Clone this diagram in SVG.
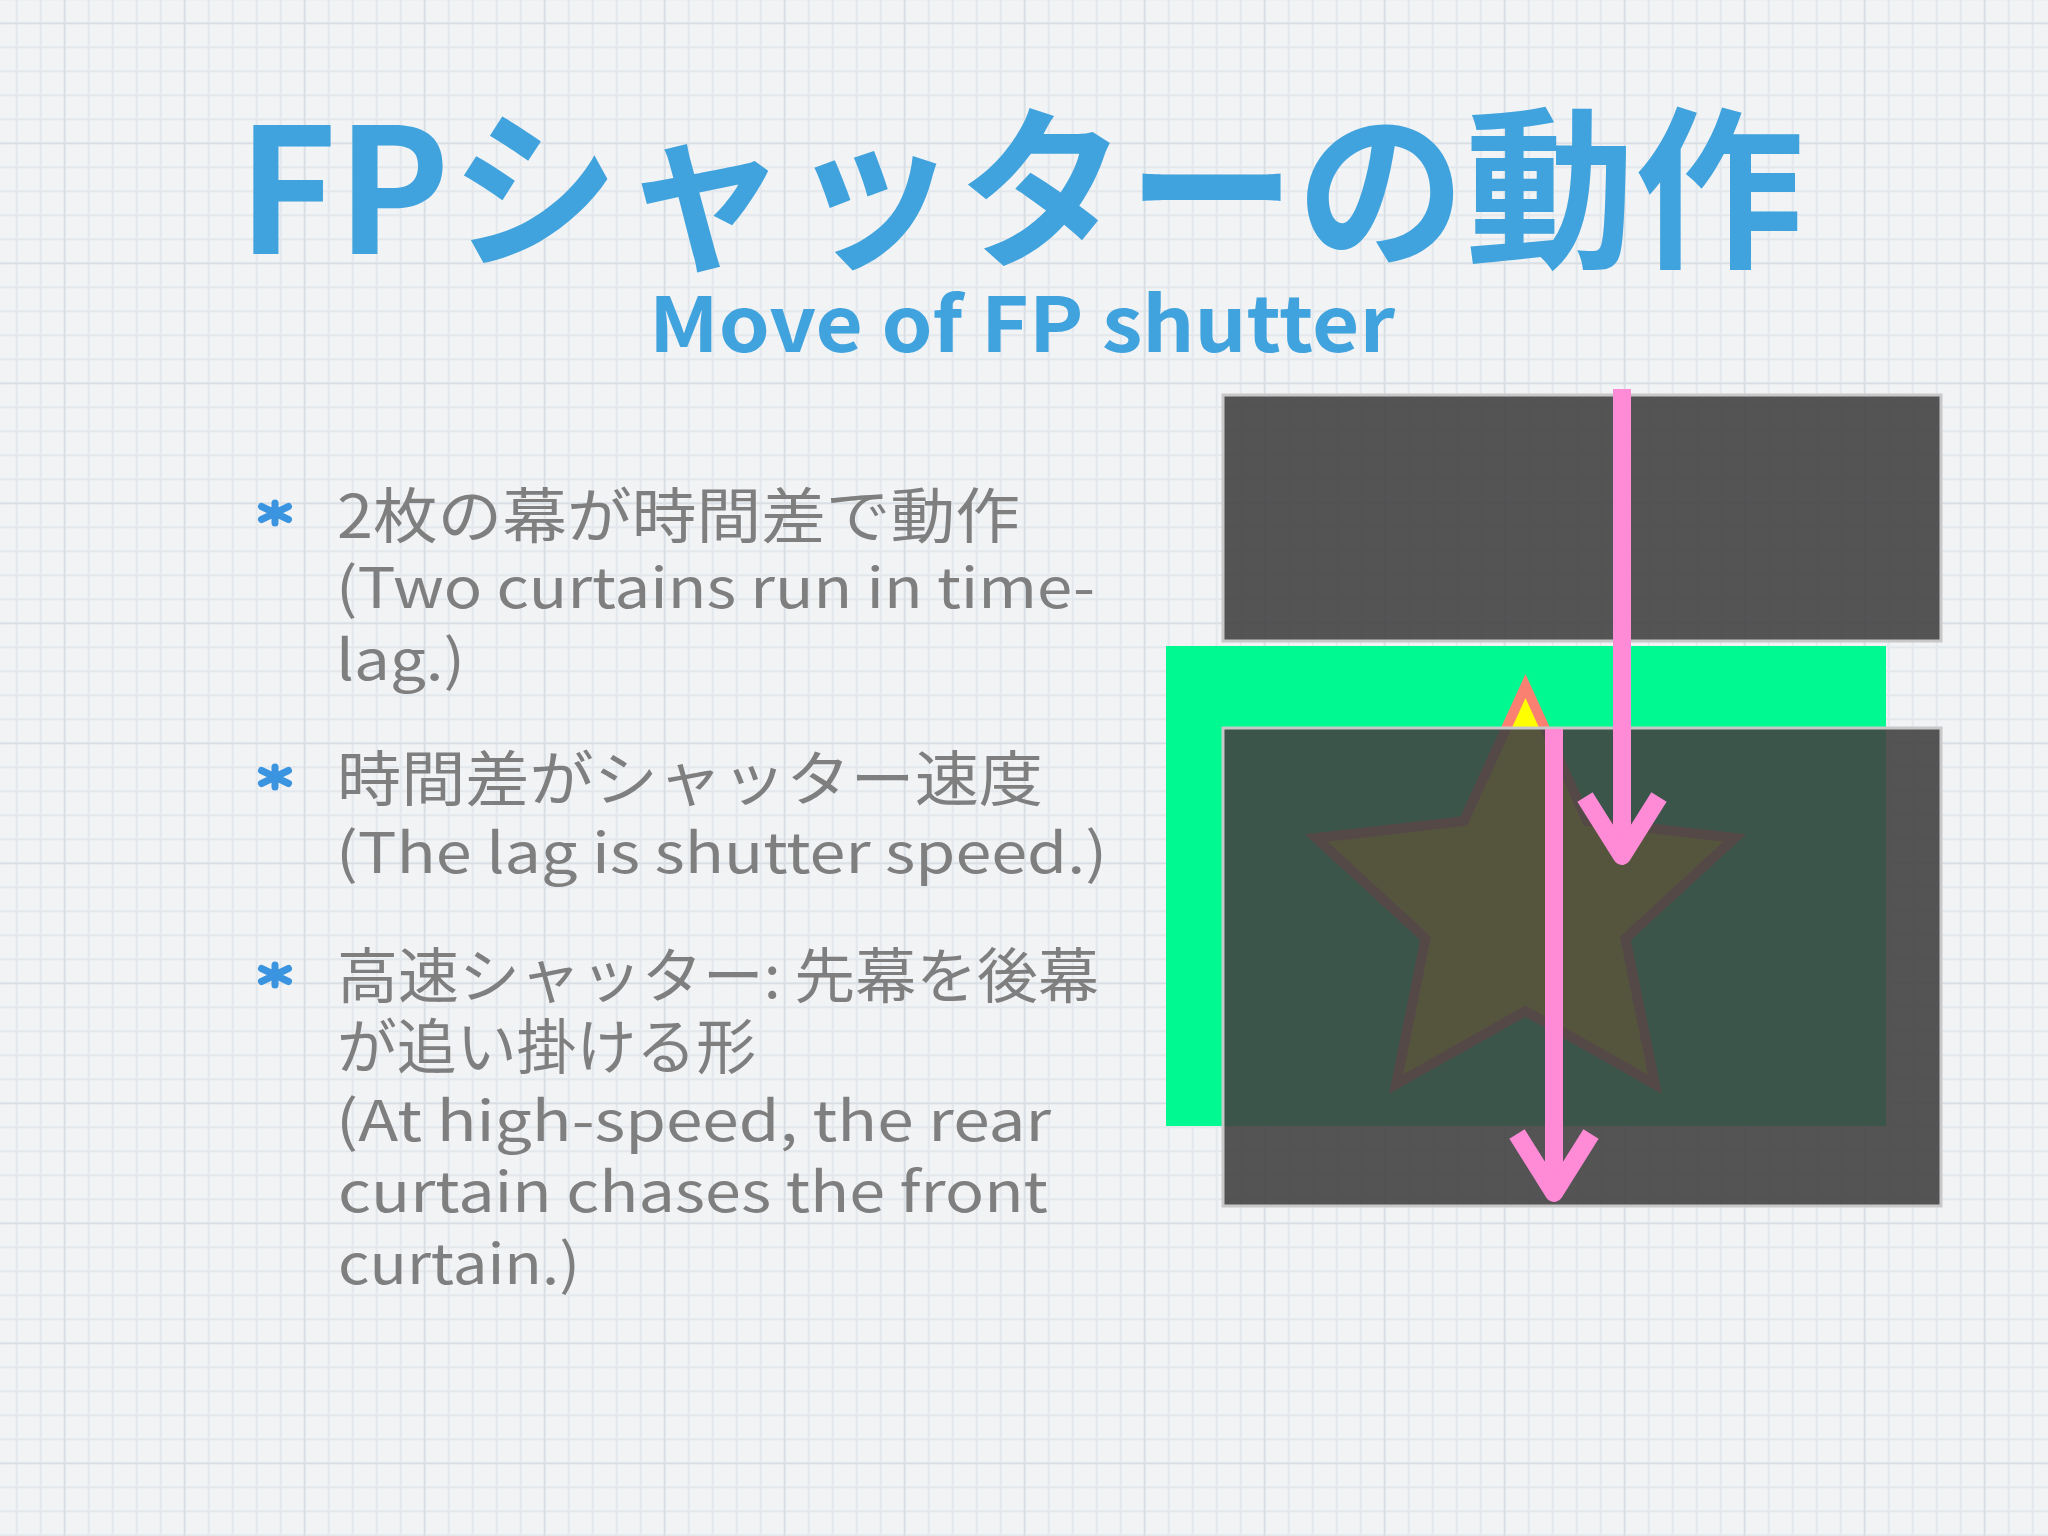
<svg xmlns="http://www.w3.org/2000/svg" width="2048" height="1536" viewBox="0 0 2048 1536">
  <defs>
    <pattern id="grid" width="120" height="120" patternUnits="userSpaceOnUse" x="63.7" y="22.3">
      <rect x="24" y="0" width="2" height="120" fill="#E3E8EC"/>
      <rect x="48" y="0" width="2" height="120" fill="#E3E8EC"/>
      <rect x="72" y="0" width="2" height="120" fill="#E3E8EC"/>
      <rect x="96" y="0" width="2" height="120" fill="#E3E8EC"/>
      <rect x="0" y="24" width="120" height="2" fill="#E3E8EC"/>
      <rect x="0" y="48" width="120" height="2" fill="#E3E8EC"/>
      <rect x="0" y="72" width="120" height="2" fill="#E3E8EC"/>
      <rect x="0" y="96" width="120" height="2" fill="#E3E8EC"/>
      <rect x="0" y="0" width="2" height="120" fill="#D9DFE4"/>
      <rect x="0" y="0" width="120" height="2" fill="#D9DFE4"/>
    </pattern>
    <marker id="head" viewBox="-80 -50 100 100" markerWidth="100" markerHeight="100" refX="0" refY="0" orient="auto" markerUnits="userSpaceOnUse" overflow="visible">
      <path d="M-59,-37 L0,0 L-59,37" fill="none" stroke="#FF8AD6" stroke-width="18" stroke-linejoin="round" stroke-linecap="butt"/>
    </marker>
    <path id="ast" d="M0,-10 L0,10 M-13.5,-6.5 L13.5,6.5 M-13.5,6.5 L13.5,-6.5"/>
  </defs>
  <style>
    .title { font-family: "Noto Sans CJK JP", "Noto Sans", sans-serif; font-weight: 700; fill: #41A3DD; }
    .body { font-family: "Noto Sans CJK JP", "Noto Sans", sans-serif; font-weight: 400; fill: #7F7F7F; }
    .cjk { font-size: 60px; }
    .lat { font-size: 56px; }
    .bullet { fill: none; stroke: #3A94DF; stroke-width: 7; stroke-linecap: round; }
    .curtain { fill: #424244; fill-opacity: 0.9; stroke: #C8C8C8; stroke-width: 3; }
    .arrow { fill: none; stroke: #FF8AD6; stroke-width: 18; stroke-linecap: butt; marker-end: url(#head); }
  </style>

  <g id="background">
    <rect x="0" y="0" width="2048" height="1536" fill="#F1F3F5"/>
    <rect x="0" y="0" width="2048" height="1536" fill="url(#grid)"/>
  </g>

  <g id="title">
    <text class="title" x="238" y="254" font-size="174" textLength="1566" lengthAdjust="spacingAndGlyphs">FPシャッターの動作</text>
  </g>
  <g id="subtitle">
    <text class="title" x="649" y="352" font-size="76" textLength="746" lengthAdjust="spacingAndGlyphs">Move of FP shutter</text>
  </g>

  <g id="bullet-1">
    <use href="#ast" class="bullet" x="275" y="513"/>
    <text class="body cjk" x="337" y="538" textLength="683" lengthAdjust="spacingAndGlyphs">2枚の幕が時間差で動作</text>
    <text class="body lat" x="336" y="608" textLength="759" lengthAdjust="spacingAndGlyphs">(Two curtains run in time-</text>
    <text class="body lat" x="336" y="680" textLength="129" lengthAdjust="spacingAndGlyphs">lag.)</text>
  </g>
  <g id="bullet-2">
    <use href="#ast" class="bullet" x="275" y="777"/>
    <text class="body cjk" x="337" y="801" textLength="706" lengthAdjust="spacingAndGlyphs">時間差がシャッター速度</text>
    <text class="body lat" x="336" y="873" textLength="771" lengthAdjust="spacingAndGlyphs">(The lag is shutter speed.)</text>
  </g>
  <g id="bullet-3">
    <use href="#ast" class="bullet" x="275" y="975"/>
    <text class="body cjk" x="337" y="998" textLength="762" lengthAdjust="spacingAndGlyphs">高速シャッター: 先幕を後幕</text>
    <text class="body cjk" x="337" y="1069" textLength="419" lengthAdjust="spacingAndGlyphs">が追い掛ける形</text>
    <text class="body lat" x="336" y="1141" textLength="715" lengthAdjust="spacingAndGlyphs">(At high-speed, the rear</text>
    <text class="body lat" x="338" y="1212" textLength="710" lengthAdjust="spacingAndGlyphs">curtain chases the front</text>
    <text class="body lat" x="338" y="1284" textLength="242" lengthAdjust="spacingAndGlyphs">curtain.)</text>
  </g>

  <g id="front-curtain">
    <rect class="curtain" x="1223" y="395" width="718" height="246"/>
  </g>
  <g id="exposure-area">
    <rect x="1166" y="646" width="720" height="480" fill="#00F991"/>
  </g>
  <g id="subject-star">
    <polygon points="1525.5,686 1587.2,821.1 1734.7,838 1625.4,938.4 1654.8,1084 1525.5,1011 1396.2,1084 1425.6,938.4 1316.3,838 1463.8,821.1" fill="#FFFF00" stroke="#FA8072" stroke-width="10"/>
  </g>
  <g id="rear-curtain">
    <rect class="curtain" x="1223" y="728" width="718" height="478"/>
  </g>

  <g id="connectors">
    <line class="arrow" x1="1554" y1="729" x2="1554" y2="1193"/>
    <line class="arrow" x1="1622" y1="389" x2="1622" y2="856"/>
  </g>
</svg>
